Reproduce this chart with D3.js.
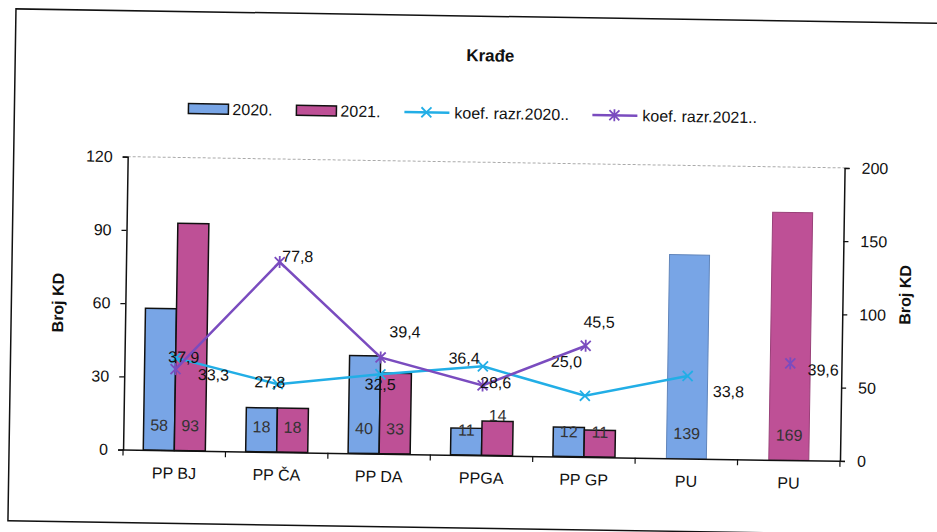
<!DOCTYPE html>
<html>
<head>
<meta charset="utf-8">
<script src="https://cdn.jsdelivr.net/npm/d3@7"></script>
<style>
  body { margin: 0; background: #fff; }
  svg { display: block; font-family: "Liberation Sans", Arial, sans-serif; }
</style>
</head>
<body>
<div id="chart"></div>
<script>
const categories = ["PP BJ", "PP ČA", "PP DA", "PPGA", "PP GP", "PU", "PU"];
const bars2020 = [58, 18, 40, 11, 12, null, null];
const bars2021 = [93, 18, 33, 14, 11, null, null];
// PU bars sit on the secondary axis
const pu2020 = [null, null, null, null, null, 139, null];
const pu2021 = [null, null, null, null, null, null, 169];
const koef2020 = [37.9, 27.8, 32.5, 36.4, 25.0, 33.8, null];
const koef2021 = [33.3, 77.8, 39.4, 28.6, 45.5, null, 39.6];
const leftTicks = [0, 30, 60, 90, 120];
const rightTicks = [0, 50, 100, 150, 200];

// label nudges (layout only)
const koef2020Off = [[8, -1], [-8, -2], [0, 10], [-19, -8], [-19, -34], [41, 15], null];
const koef2021Off = [[38, 5], [18, -6], [24, -26], [13, -3], [13, -24], null, [33, 6]];
const bar2021LabelDy = [0, 0, 0, -15, 0, 0, 0];

const W = 937, H = 532;
const m = { left: 126, right: 843, top: 162, bottom: 455 };
const blue = "#78a5e6", pink = "#be5096", cyan = "#22aee6", purple = "#7a4cbf";

const svg = d3.select("#chart").append("svg")
  .attr("width", W).attr("height", H);
svg.append("rect").attr("width", W).attr("height", H).attr("fill", "#fff");

// scanned page is slightly tilted
const g = svg.append("g").attr("transform", "rotate(0.9,468,266)");

g.append("rect")
  .attr("x", 12).attr("y", 16).attr("width", 950).attr("height", 512)
  .attr("fill", "none").attr("stroke", "#111").attr("stroke-width", 1.5);

const x = d3.scaleBand().domain(d3.range(categories.length)).range([m.left, m.right]);
const x1 = d3.scaleBand().domain([0, 1]).range([0, x.bandwidth()]).paddingOuter(0.65);
const yL = d3.scaleLinear().domain([0, 120]).range([m.bottom, m.top]);
const yR = d3.scaleLinear().domain([0, 200]).range([m.bottom, m.top]);

// title
g.append("text").attr("x", 487).attr("y", 61).attr("text-anchor", "middle")
  .attr("font-size", 17).attr("font-weight", "bold").attr("fill", "#111").text("Krađe");

// plot top border (faint)
g.append("line").attr("x1", m.left).attr("x2", m.right).attr("y1", m.top).attr("y2", m.top)
  .attr("stroke", "#aaa").attr("stroke-dasharray", "3,2");

// primary bars
const series = [
  { vals: bars2020, color: blue, idx: 0 },
  { vals: bars2021, color: pink, idx: 1 },
];
series.forEach(s => {
  const pts = s.vals.map((v, i) => ({ v, i })).filter(d => d.v != null);
  g.append("g").selectAll("rect").data(pts).join("rect")
    .attr("x", d => x(d.i) + x1(s.idx))
    .attr("y", d => yL(d.v))
    .attr("width", x1.bandwidth())
    .attr("height", d => yL(0) - yL(d.v))
    .attr("fill", s.color).attr("stroke", "#111").attr("stroke-width", 1.5);
  g.append("g").selectAll("text").data(pts).join("text")
    .attr("x", d => x(d.i) + x1(s.idx) + x1.bandwidth() / 2)
    .attr("y", d => m.bottom - 25 + (s.idx === 1 ? bar2021LabelDy[d.i] : 0))
    .attr("dy", "0.35em").attr("text-anchor", "middle")
    .attr("font-size", 16).attr("fill", "#333").text(d => d.v);
});

// secondary (PU) bars
const puW = 40;
[{ vals: pu2020, color: blue }, { vals: pu2021, color: pink }].forEach(s => {
  const pts = s.vals.map((v, i) => ({ v, i })).filter(d => d.v != null);
  g.append("g").selectAll("rect").data(pts).join("rect")
    .attr("x", d => x(d.i) + x.bandwidth() / 2 - puW / 2)
    .attr("y", d => yR(d.v))
    .attr("width", puW)
    .attr("height", d => yR(0) - yR(d.v))
    .attr("fill", s.color).attr("stroke", d3.color(s.color).darker(0.6)).attr("stroke-width", 1);
  g.append("g").selectAll("text").data(pts).join("text")
    .attr("x", d => x(d.i) + x.bandwidth() / 2)
    .attr("y", m.bottom - 25).attr("dy", "0.35em").attr("text-anchor", "middle")
    .attr("font-size", 16).attr("fill", "#333").text(d => d.v);
});

// lines
const cx = i => x(i) + x.bandwidth() / 2;
function marker(sel, kind, color) {
  const r = 5;
  sel.append("path")
    .attr("d", kind === "star"
      ? `M${-r},${-r}L${r},${r}M${-r},${r}L${r},${-r}M0,${-r - 1}L0,${r + 1}`
      : `M${-r},${-r}L${r},${r}M${-r},${r}L${r},${-r}`)
    .attr("stroke", color).attr("stroke-width", 1.8).attr("fill", "none");
}
const fmt = v => v.toFixed(1).replace(".", ",");
[
  { vals: koef2020, color: cyan, kind: "x", off: koef2020Off },
  { vals: koef2021, color: purple, kind: "star", off: koef2021Off },
].forEach(s => {
  const pts = s.vals.map((v, i) => ({ v, i }));
  const line = d3.line().defined(d => d.v != null).x(d => cx(d.i)).y(d => yL(d.v));
  g.append("path").datum(pts).attr("d", line)
    .attr("fill", "none").attr("stroke", s.color).attr("stroke-width", 2.5);
  const valid = pts.filter(d => d.v != null);
  g.append("g").selectAll("g").data(valid).join("g")
    .attr("transform", d => `translate(${cx(d.i)},${yL(d.v)})`)
    .each(function () { marker(d3.select(this), s.kind, s.color); });
  g.append("g").selectAll("text").data(valid).join("text")
    .attr("x", d => cx(d.i) + s.off[d.i][0])
    .attr("y", d => yL(d.v) + s.off[d.i][1])
    .attr("dy", "0.35em").attr("text-anchor", "middle")
    .attr("font-size", 16).attr("fill", "#111").text(d => fmt(d.v));
});

// axes
const axL = g.append("g").attr("transform", `translate(${m.left},0)`)
  .call(d3.axisLeft(yL).tickValues(leftTicks).tickSize(5).tickPadding(10));
const axR = g.append("g").attr("transform", `translate(${m.right},0)`)
  .call(d3.axisRight(yR).tickValues(rightTicks).tickSize(5).tickPadding(12));
const axB = g.append("g").attr("transform", `translate(0,${m.bottom})`)
  .call(d3.axisBottom(x).tickFormat(i => categories[i]).tickSize(0).tickPadding(17));
[axL, axR, axB].forEach(a => {
  a.select(".domain").attr("stroke", "#111").attr("stroke-width", 1.5);
  a.selectAll(".tick line").attr("stroke", "#111").attr("stroke-width", 1.2);
  a.selectAll("text").attr("font-size", 16).attr("fill", "#111")
    .attr("font-family", "'Liberation Sans', Arial, sans-serif");
});
g.append("g").selectAll("line").data(d3.range(categories.length + 1)).join("line")
  .attr("x1", i => m.left + i * x.step()).attr("x2", i => m.left + i * x.step())
  .attr("y1", m.bottom).attr("y2", m.bottom + 6)
  .attr("stroke", "#111").attr("stroke-width", 1.2);

// axis titles
g.append("text").attr("transform", "translate(64,309) rotate(-90)")
  .attr("text-anchor", "middle").attr("font-size", 16).attr("font-weight", "bold")
  .attr("fill", "#111").text("Broj KD");
g.append("text").attr("transform", "translate(911,288) rotate(-90)")
  .attr("text-anchor", "middle").attr("font-size", 16).attr("font-weight", "bold")
  .attr("fill", "#111").text("Broj KD");

// legend
const leg = g.append("g").attr("transform", "translate(0,113)");
const legItems = [
  { label: "2020.", type: "bar", color: blue, x: 186 },
  { label: "2021.", type: "bar", color: pink, x: 294 },
  { label: "koef. razr.2020..", type: "line", color: cyan, kind: "x", x: 402 },
  { label: "koef. razr.2021..", type: "line", color: purple, kind: "star", x: 590 },
];
legItems.forEach(it => {
  const li = leg.append("g").attr("transform", `translate(${it.x},0)`);
  if (it.type === "bar") {
    li.append("rect").attr("x", 0).attr("y", -5).attr("width", 40).attr("height", 10)
      .attr("fill", it.color).attr("stroke", "#111").attr("stroke-width", 1.5);
  } else {
    li.append("line").attr("x1", 0).attr("x2", 45).attr("y1", 0).attr("y2", 0)
      .attr("stroke", it.color).attr("stroke-width", 2.5);
    marker(li.append("g").attr("transform", "translate(22,0)"), it.kind, it.color);
  }
  li.append("text").attr("x", it.type === "bar" ? 44 : 50).attr("dy", "0.35em")
    .attr("font-size", 16).attr("fill", "#111").text(it.label);
});
</script>
</body>
</html>
